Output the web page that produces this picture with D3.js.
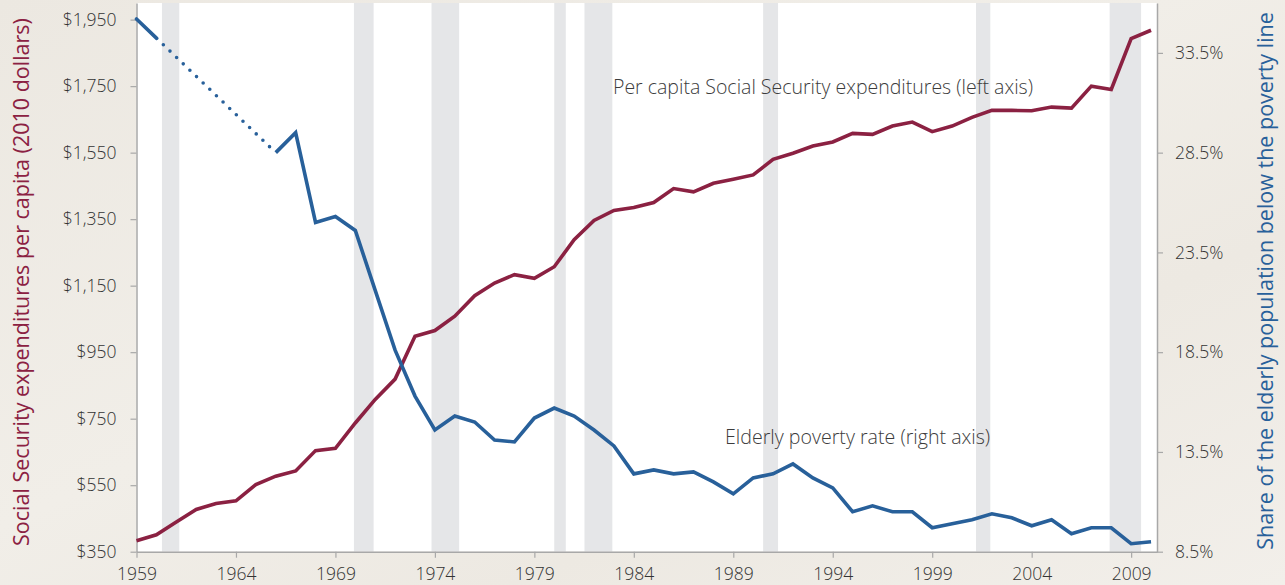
<!DOCTYPE html>
<html>
<head>
<meta charset="utf-8">
<script src="https://cdn.jsdelivr.net/npm/d3@7"></script>
<style>
  html, body { margin: 0; padding: 0; background: #efebe4; }
  svg text { font-family: "Open Sans", "Noto Sans", sans-serif; }
</style>
</head>
<body>
<div id="charts"></div>
<script>
// years on the x axis
const years = d3.range(1959, 2011);

// per capita Social Security expenditures, 2010 dollars (left axis)
const ssSpending = [383, 401, 439, 477, 495, 503, 552, 577, 593, 654, 661, 737, 808, 869, 998, 1015,
  1058, 1120, 1158, 1183, 1172, 1207, 1288, 1346, 1376, 1385, 1400, 1442, 1432, 1458, 1470, 1483,
  1530, 1548, 1570, 1582, 1608, 1605, 1630, 1642, 1613, 1630, 1656, 1677, 1677, 1676, 1687, 1684,
  1750, 1740, 1893, 1918];

// elderly poverty rate in percent (right axis); 1960-65 not measured
const povYears = [1959, 1966, 1967, 1968, 1969, 1970, 1971, 1972, 1973, 1974, 1975, 1976, 1977, 1978,
  1979, 1980, 1981, 1982, 1983, 1984, 1985, 1986, 1987, 1988, 1989, 1990, 1991, 1992, 1993, 1994,
  1995, 1996, 1997, 1998, 1999, 2000, 2001, 2002, 2003, 2004, 2005, 2006, 2007, 2008, 2009, 2010];
const povRate = [35.2, 28.5, 29.5, 25.0, 25.3, 24.6, 21.6, 18.6, 16.3, 14.6, 15.3, 15.0, 14.1, 14.0,
  15.2, 15.7, 15.3, 14.6, 13.8, 12.4, 12.6, 12.4, 12.5, 12.0, 11.4, 12.2, 12.4, 12.9, 12.2, 11.7,
  10.5, 10.8, 10.5, 10.5, 9.7, 9.9, 10.1, 10.4, 10.2, 9.8, 10.1, 9.4, 9.7, 9.7, 8.9, 9.0];

// recession periods (start, end) as decimal years
const recessions = [[1960.28, 1961.15], [1969.93, 1970.92], [1973.83, 1975.22], [1980.0, 1980.58],
  [1981.52, 1982.92], [1990.5, 1991.25], [2001.2, 2001.92], [2007.92, 2009.5]];

const leftTicks = [350, 550, 750, 950, 1150, 1350, 1550, 1750, 1950];
const rightTicks = [8.5, 13.5, 18.5, 23.5, 28.5, 33.5];
const yearTicks = [1959, 1964, 1969, 1974, 1979, 1984, 1989, 1994, 1999, 2004, 2009];

const maroon = '#8b2142';
const blue = '#28609a';

window.onload = init;

function init()
{
    const width = 1285;
    const height = 585;
    const m = {left: 136.5, right: 1157, top: 3, bottom: 551.7};

    const svg = d3.select('#charts').append('svg').attr('width', width).attr('height', height);

    // soft beige background
    const grad = svg.append('defs').append('linearGradient')
        .attr('id', 'bg').attr('x1', 0).attr('y1', 0).attr('x2', 1).attr('y2', 1);
    grad.append('stop').attr('offset', '0%').attr('stop-color', '#ece8e1');
    grad.append('stop').attr('offset', '45%').attr('stop-color', '#f1eee8');
    grad.append('stop').attr('offset', '70%').attr('stop-color', '#ede9e2');
    grad.append('stop').attr('offset', '100%').attr('stop-color', '#f2efea');
    svg.append('rect').attr('width', width).attr('height', height).attr('fill', 'url(#bg)');

    const x = d3.scaleLinear().domain([1959, 2010.3]).range([m.left, m.right]);
    const yL = d3.scaleLinear().domain([350, 2000]).range([m.bottom, m.top]);
    const yR = d3.scaleLinear().domain([8.5, 36]).range([m.bottom, m.top]);

    svg.append('rect').attr('x', m.left).attr('y', m.top)
        .attr('width', m.right - m.left).attr('height', m.bottom - m.top).attr('fill', '#ffffff');

    svg.selectAll('rect.rec').data(recessions).enter().append('rect').attr('class', 'rec')
        .attr('x', d => x(d[0])).attr('width', d => x(d[1]) - x(d[0]))
        .attr('y', m.top).attr('height', m.bottom - m.top).attr('fill', '#e5e6e8');

    // axes
    const styleAxis = g => {
        g.selectAll('path.domain').attr('stroke', '#a8a8a8').attr('stroke-width', 1.5);
        g.selectAll('.tick line').attr('stroke', '#a8a8a8').attr('stroke-width', 1.2);
        g.selectAll('.tick text').attr('fill', '#333').attr('font-size', 17.5).attr('font-weight', 300);
    };

    svg.append('g').attr('transform', `translate(${m.left},0)`)
        .call(d3.axisLeft(yL).tickValues(leftTicks).tickFormat(d3.format('$,')).tickSize(6).tickSizeOuter(0).tickPadding(14))
        .call(styleAxis);

    svg.append('g').attr('transform', `translate(${m.right},0)`)
        .call(d3.axisRight(yR).tickValues(rightTicks).tickFormat(d => d.toFixed(1) + '%').tickSize(6).tickSizeOuter(0).tickPadding(12))
        .call(styleAxis);

    svg.append('g').attr('transform', `translate(0,${m.bottom})`)
        .call(d3.axisBottom(x).tickValues(yearTicks).tickFormat(d3.format('d')).tickSize(6).tickSizeOuter(0).tickPadding(10))
        .call(styleAxis);

    // Social Security line
    const lineL = d3.line().x((d, i) => x(years[i])).y(d => yL(d));
    svg.append('path').datum(ssSpending).attr('d', lineL)
        .attr('fill', 'none').attr('stroke', maroon).attr('stroke-width', 3.6).attr('stroke-linejoin', 'miter');

    // poverty line: gap years drawn dotted, rest solid
    const pov = povYears.map((yr, i) => [x(yr), yR(povRate[i])]);
    const gap = [pov[0], pov[1]];
    const segLen = Math.hypot(gap[1][0] - gap[0][0], gap[1][1] - gap[0][1]);
    const solidLen = 28, step = 9.2;
    const dash = [solidLen, step];
    for (let l = solidLen + step; l < segLen - 6; l += step) dash.push(0, step);
    dash.push(0, 400);
    svg.append('path').attr('d', d3.line()(gap))
        .attr('fill', 'none').attr('stroke', blue).attr('stroke-width', 3.6)
        .attr('stroke-linecap', 'round').attr('stroke-dasharray', dash.join(' '));

    svg.append('path').attr('d', d3.line()(pov.slice(1)))
        .attr('fill', 'none').attr('stroke', blue).attr('stroke-width', 3.6).attr('stroke-linejoin', 'miter');

    // labels on the lines
    svg.append('text').attr('x', 613).attr('y', 94).attr('font-size', 19.5).attr('font-weight', 300)
        .attr('fill', '#3c3c3c').text('Per capita Social Security expenditures (left axis)');
    svg.append('text').attr('x', 725).attr('y', 444).attr('font-size', 19.6).attr('font-weight', 300)
        .attr('fill', '#3c3c3c').text('Elderly poverty rate (right axis)');

    // axis titles
    svg.append('text').attr('transform', 'translate(29,282) rotate(-90)').attr('text-anchor', 'middle')
        .attr('font-size', 21.5).attr('fill', maroon)
        .text('Social Security expenditures per capita (2010 dollars)');
    svg.append('text').attr('transform', 'translate(1273,281) rotate(-90)').attr('text-anchor', 'middle')
        .attr('font-size', 21.5).attr('fill', blue)
        .text('Share of the elderly population below the poverty line');
}
</script>
</body>
</html>
